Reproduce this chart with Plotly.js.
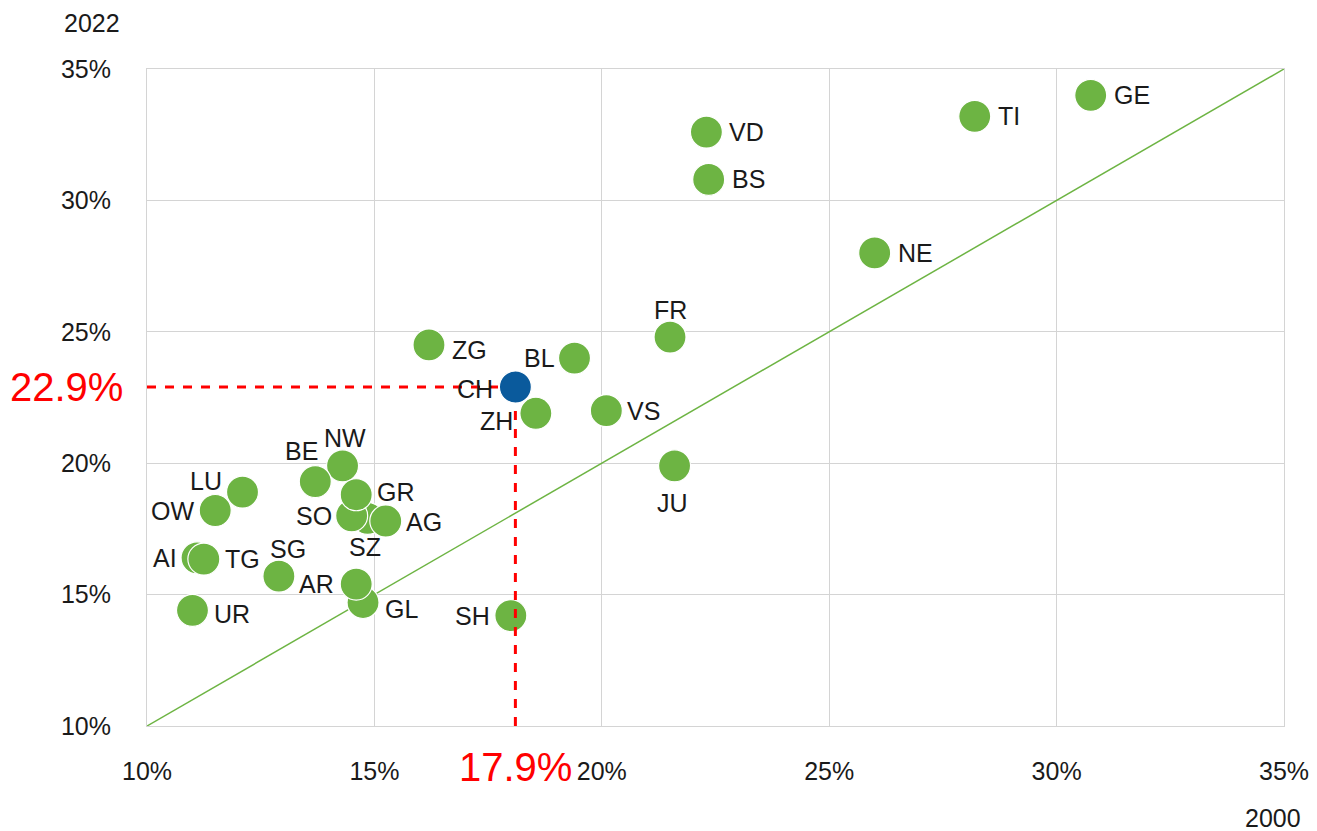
<!DOCTYPE html>
<html>
<head>
<meta charset="utf-8">
<script src="https://cdn.plot.ly/plotly-3.0.1.min.js"></script>
<style>
  html, body { margin: 0; padding: 0; background: #ffffff; }
  #chart { width: 1317px; height: 831px; }
</style>
</head>
<body>
<div id="chart"></div>
<script>
// Cantonal values (share in %): 2000 on x, 2022 on y
const cantons = ["GE","TI","VD","BS","NE","FR","ZG","BL","ZH","VS","JU","NW","BE","LU","OW","SZ","SO","AG","GR","AI","TG","SG","GL","AR","UR","SH"];
const share2000 = [30.75, 28.2, 22.3, 22.35, 26.0, 21.5, 16.2, 19.4, 18.55, 20.1, 21.6, 14.3, 13.7, 12.1, 11.5, 14.85, 14.5, 15.25, 14.6, 11.1, 11.25, 12.9, 14.75, 14.6, 11.0, 18.0];
const share2022 = [34.0, 33.2, 32.6, 30.8, 28.0, 24.8, 24.5, 24.0, 21.9, 22.0, 19.9, 19.9, 19.3, 18.9, 18.2, 17.9, 18.0, 17.8, 18.8, 16.4, 16.35, 15.7, 14.7, 15.4, 14.4, 14.2];

// Switzerland overall
const chLabel = "CH";
const ch2000 = 18.1;
const ch2022 = 22.9;
const ch2000Text = "17.9%";
const ch2022Text = "22.9%";

// Axis ticks
const tickVals = [10, 15, 20, 25, 30, 35];
const tickText = ["10%", "15%", "20%", "25%", "30%", "35%"];
const xAxisLabel = "2000";
const yAxisLabel = "2022";

// Label placement per point (style only): [xanchor, xshift px, yshift px]
const labelStyle = {
  GE: ["left", 21, 0],  TI: ["left", 21, 0],  VD: ["left", 21, 0],  BS: ["left", 21, 0],
  NE: ["left", 21, 0],  FR: ["center", 0, 27], ZG: ["left", 21, -5], BL: ["right", -18, 0],
  ZH: ["right", -21, -8], VS: ["left", 19, 0], JU: ["center", -2, -37], NW: ["center", 2, 28],
  BE: ["center", -14, 31], LU: ["right", -19, 11], OW: ["right", -19, 0], GR: ["left", 19, 3],
  SO: ["right", -18, 0], SZ: ["center", -3, -29], AG: ["left", 18, -1], AI: ["right", -18, 0],
  TG: ["left", 19, 0],  SG: ["center", 9, 27], GL: ["left", 20, -7], AR: ["right", -20, 0],
  UR: ["left", 20, -4], SH: ["right", -19, 0], CH: ["right", -20, -2]
};

const FONT = "Liberation Sans, Arial, Helvetica, sans-serif";
const GREEN = "#6db443";
const BLUE = "#0a5a9c";
const RED = "#ff0000";
const TXT = "#1a1a1a";

const traces = [
  { // diagonal reference line
    x: [tickVals[0], tickVals[tickVals.length - 1]],
    y: [tickVals[0], tickVals[tickVals.length - 1]],
    mode: "lines", type: "scatter",
    line: { color: GREEN, width: 1.5 },
    hoverinfo: "skip", showlegend: false
  },
  { // cantons
    x: share2000, y: share2022, text: cantons,
    mode: "markers", type: "scatter",
    marker: { size: 32, color: GREEN, line: { color: "#ffffff", width: 1.2 } },
    cliponaxis: false, showlegend: false
  },
  { // horizontal dashed guide
    x: [tickVals[0], ch2000], y: [ch2022, ch2022],
    mode: "lines", type: "scatter",
    line: { color: RED, width: 3, dash: "dash" },
    hoverinfo: "skip", showlegend: false
  },
  { // vertical dashed guide
    x: [ch2000, ch2000], y: [tickVals[0], ch2022],
    mode: "lines", type: "scatter",
    line: { color: RED, width: 3, dash: "dash" },
    hoverinfo: "skip", showlegend: false
  },
  { // Switzerland
    x: [ch2000], y: [ch2022], text: [chLabel],
    mode: "markers", type: "scatter",
    marker: { size: 32, color: BLUE, line: { color: "#ffffff", width: 1.2 } },
    cliponaxis: false, showlegend: false
  }
];

const pointLabels = cantons.map((c, i) => ({ name: c, x: share2000[i], y: share2022[i] }))
  .concat([{ name: chLabel, x: ch2000, y: ch2022 }])
  .map(p => {
    const s = labelStyle[p.name];
    return {
      text: p.name, x: p.x, y: p.y, xref: "x", yref: "y",
      xanchor: s[0], yanchor: "middle", xshift: s[1], yshift: s[2],
      showarrow: false, font: { family: FONT, size: 25, color: TXT }
    };
  });

const axisCommon = {
  range: [tickVals[0], tickVals[tickVals.length - 1]],
  tickvals: tickVals, ticktext: tickText,
  showgrid: true, gridcolor: "#d4d4d4", gridwidth: 1,
  showline: true, linecolor: "#d4d4d4", linewidth: 1, mirror: true,
  zeroline: false, ticks: "",
  tickfont: { family: FONT, size: 25, color: TXT },
  fixedrange: true
};

const layout = {
  width: 1317, height: 831,
  margin: { l: 147, r: 33, t: 69, b: 105 },
  paper_bgcolor: "#ffffff", plot_bgcolor: "#ffffff",
  font: { family: FONT },
  xaxis: Object.assign({}, axisCommon, { ticklabelstandoff: 23 }),
  yaxis: Object.assign({}, axisCommon, { ticklabelstandoff: 30 }),
  annotations: pointLabels.concat([
    { text: yAxisLabel, xref: "paper", yref: "paper", x: -0.048, y: 1.07,
      xanchor: "center", yanchor: "middle", showarrow: false,
      font: { family: FONT, size: 25, color: TXT } },
    { text: xAxisLabel, xref: "paper", yref: "paper", x: 0.9905, y: -0.14,
      xanchor: "center", yanchor: "middle", showarrow: false,
      font: { family: FONT, size: 25, color: TXT } },
    { text: ch2022Text, xref: "paper", yref: "y", x: -0.019, y: ch2022,
      xanchor: "right", yanchor: "middle", showarrow: false,
      font: { family: FONT, size: 40, color: RED } },
    { text: ch2000Text, xref: "x", yref: "paper", x: ch2000, y: -0.063,
      xanchor: "center", yanchor: "middle", showarrow: false,
      font: { family: FONT, size: 40, color: RED } }
  ])
};

Plotly.newPlot("chart", traces, layout, { displayModeBar: false, staticPlot: true });
</script>
</body>
</html>
